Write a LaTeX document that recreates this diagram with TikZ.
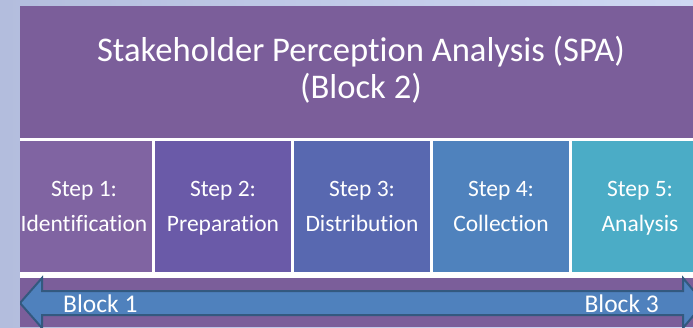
\documentclass[tikz,border=0pt]{standalone}
\usepackage{fontspec}
\setmainfont{Carlito}[Ligatures={NoCommon,NoContextual}]
\definecolor{bgleft}{HTML}{B3BDDD}
\definecolor{bgright}{HTML}{CFD8F3}
\definecolor{panel}{HTML}{7B5E9A}
\definecolor{boxA}{HTML}{8064A2}
\definecolor{boxB}{HTML}{6A5AA8}
\definecolor{boxC}{HTML}{5868B0}
\definecolor{boxD}{HTML}{4F82BD}
\definecolor{boxE}{HTML}{4BACC6}
\definecolor{arrowfill}{HTML}{4F81BD}
\definecolor{arrowline}{HTML}{33597F}
\tikzset{
  stepbox/.style={rectangle, draw=none, minimum width=136pt, minimum height=131pt,
    inner sep=0pt, text=white, align=center, font=\fontsize{23.5}{35}\selectfont},
  titlebox/.style={text=white, align=center, inner sep=0pt, font=\fontsize{34.6}{36}\selectfont},
  blocklabel/.style={text=white, inner sep=0pt, font=\fontsize{25.5}{30}\selectfont},
}
\begin{document}
\begin{tikzpicture}[x=1pt, y=-1pt]
  \useasboundingbox (0,0) rectangle (693,327);
  % light page background
  \shade[left color=bgleft, right color=bgright] (0,0) rectangle (693,327);
  \begin{scope}
    \clip (20,6) rectangle (693,327);
    % purple panel and white band behind the steps
    \fill[panel] (20,6) rectangle (693,327);
    \fill[white] (0,138) rectangle (720,278);
    % title
    \node[titlebox] (title) at (361,72.8)
      {Stakeholder Perception Analysis (SPA)\strut\\(Block 2)\strut};
    % the five steps
    \node[stepbox, fill=boxA] (s1) at (84,206.5) {Step 1:\strut\\Identification\strut};
    \node[stepbox, fill=boxB] (s2) at (223,206.5) {Step 2:\strut\\Preparation\strut};
    \node[stepbox, fill=boxC] (s3) at (362,206.5) {Step 3:\strut\\Distribution\strut};
    \node[stepbox, fill=boxD] (s4) at (501,206.5) {Step 4:\strut\\Collection\strut};
    \node[stepbox, fill=boxE] (s5) at (640,206.5) {Step 5:\strut\\Analysis\strut};
    % double-headed arrow spanning blocks 1 to 3
    \draw[fill=arrowfill, draw=arrowline, line width=2pt, line join=miter]
      (20,303) -- (42,278) -- (42,291) -- (683,291) -- (683,278) -- (704,303)
      -- (683,328) -- (683,315) -- (42,315) -- (42,328) -- cycle;
    \node[blocklabel, anchor=base west] (b1) at (63,312) {Block 1};
    \node[blocklabel, anchor=base east] (b3) at (659,312) {Block 3};
  \end{scope}
\end{tikzpicture}
\end{document}
